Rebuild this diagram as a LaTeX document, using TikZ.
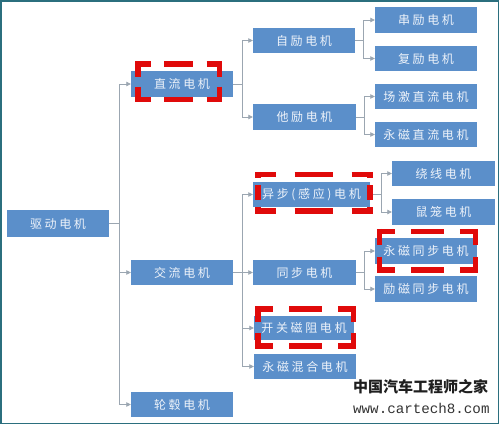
\documentclass[tikz,border=0pt]{standalone}
\usepackage{fontspec}
\setmainfont{Noto Sans CJK SC}
\newfontfamily\boxfont{Noto Sans CJK SC}[LetterSpace=22]
\newfontfamily\wmfont{Noto Sans CJK SC}
\newfontfamily\urlfont{Liberation Mono}
\usetikzlibrary{arrows.meta}
\definecolor{boxblue}{HTML}{5B8FCA}
\definecolor{boxtext}{HTML}{EEF3FA}
\definecolor{conngray}{HTML}{9BA6B1}
\definecolor{markred}{HTML}{E00A0A}
\definecolor{frameteal}{HTML}{2B6F7E}
\tikzset{
  box/.style={fill=boxblue, text=boxtext, font=\boxfont\fontsize{12}{14}\selectfont,
    minimum width=102pt, minimum height=25.5pt, inner sep=0pt},
  conn/.style={draw=conngray, line width=0.8pt, -{Triangle[length=4.5pt,width=4.5pt]}},
  redmark/.style={draw=markred, line width=5.5pt, line cap=butt},
  wmark/.style={anchor=west, inner sep=0pt, text=black!88}
}
% red dashed frame: centre-line corners x1 y1 x2 y2; vertical fractions arm, gap, middle
\newcommand\redframe[7]{%
  \pgfmathsetmacro\rfw{#3-#1+5.5}%
  \pgfmathsetmacro\rfh{#4-#2+5.5}%
  \pgfmathsetmacro\rfha{0.18*\rfw}\pgfmathsetmacro\rfhb{0.155*\rfw}\pgfmathsetmacro\rfhc{0.33*\rfw}%
  \pgfmathsetmacro\rfva{#5*\rfh}\pgfmathsetmacro\rfvb{#6*\rfh}\pgfmathsetmacro\rfvc{#7*\rfh}%
  \draw[redmark, dash pattern=on \rfha pt off \rfhb pt on \rfhc pt off \rfhb pt on \rfha pt]
    (#1-2.75,#2) -- (#3+2.75,#2);
  \draw[redmark, dash pattern=on \rfha pt off \rfhb pt on \rfhc pt off \rfhb pt on \rfha pt]
    (#1-2.75,#4) -- (#3+2.75,#4);
  \draw[redmark, dash pattern=on \rfva pt off \rfvb pt on \rfvc pt off \rfvb pt on \rfva pt]
    (#1,#2-2.75) -- (#1,#4+2.75);
  \draw[redmark, dash pattern=on \rfva pt off \rfvb pt on \rfvc pt off \rfvb pt on \rfva pt]
    (#3,#2-2.75) -- (#3,#4+2.75);
}
\begin{document}
\begin{tikzpicture}[x=1pt, y=-1pt]
\useasboundingbox (0,0) rectangle (499,424);
\fill[white] (0,0) rectangle (499,424);

% level 0
\node[box, minimum height=27pt] (qd) at (58,223.5) {驱动电机};
% level 1
\node[box, minimum height=26pt] (zl) at (182,84) {直流电机};
\node[box] (jl) at (182,272.5) {交流电机};
\node[box] (lg) at (182,404.5) {轮毂电机};
% level 2
\node[box] (zj) at (304,40.5) {自励电机};
\node[box, minimum width=103pt, minimum height=26pt] (tj) at (304.5,117) {他励电机};
\node[box, minimum width=117pt] (yb) at (311.5,194.5) {异步(感应)电机};
\node[box, minimum width=103pt] (tb) at (304.5,272.5) {同步电机};
\node[box, minimum width=100pt, minimum height=24pt] (kg) at (304,328) {开关磁阻电机};
\node[box] (yh) at (305,366.5) {永磁混合电机};
% level 3
\node[box, minimum height=26pt] (cl) at (426,20) {串励电机};
\node[box] (fl) at (426,58.5) {复励电机};
\node[box] (cj) at (426,96.5) {场激直流电机};
\node[box] (ym) at (426,134.5) {永磁直流电机};
\node[box, minimum width=103pt] (rx) at (443.5,173.5) {绕线电机};
\node[box, minimum width=103pt, minimum height=26pt] (sl) at (443.5,212) {鼠笼电机};
\node[box, minimum height=26pt] (yt) at (426,251) {永磁同步电机};
\node[box, minimum height=26pt] (lc) at (426,289) {励磁同步电机};

% connectors
\foreach \c in {zl,jl,lg} \draw[conn] (qd.east) -- ++(10,0) |- (\c.west);
\foreach \c in {zj,tj} \draw[conn] (zl.east) -- ++(9,0) |- (\c.west);
\foreach \c in {yb,tb,kg,yh} \draw[conn] (jl.east) -- ++(9,0) |- (\c.west);
\foreach \c in {cl,fl} \draw[conn] (zj.east) -- ++(8,0) |- (\c.west);
\foreach \c in {cj,ym} \draw[conn] (tj.east) -- ++(8.5,0) |- (\c.west);
\foreach \c in {rx,sl} \draw[conn] (yb.east) -- ++(11.5,0) |- (\c.west);
\foreach \c in {yt,lc} \draw[conn] (tb.east) -- ++(8.5,0) |- (\c.west);

% red highlight frames
\redframe{138}{64}{219.5}{99.5}{0.38}{0.12}{0}
\redframe{258}{174.5}{370}{211}{0.16}{0.16}{0.36}
\redframe{379.5}{231.5}{475.5}{270}{0.36}{0.14}{0}
\redframe{258}{309}{353.5}{346}{0.36}{0.14}{0}

% watermark
\node[wmark, font=\wmfont\bfseries\fontsize{15}{15}\selectfont] (wm1) at (353,387) {中国汽车工程师之家};
\node[wmark, font=\urlfont\fontsize{14.2}{15}\selectfont, text=black!80] (wm2) at (353,408) {www.cartech8.com};

% frame
\draw[frameteal, line width=1.5pt] (0.75,0.75) rectangle (498.25,423.25);
\end{tikzpicture}
\end{document}
